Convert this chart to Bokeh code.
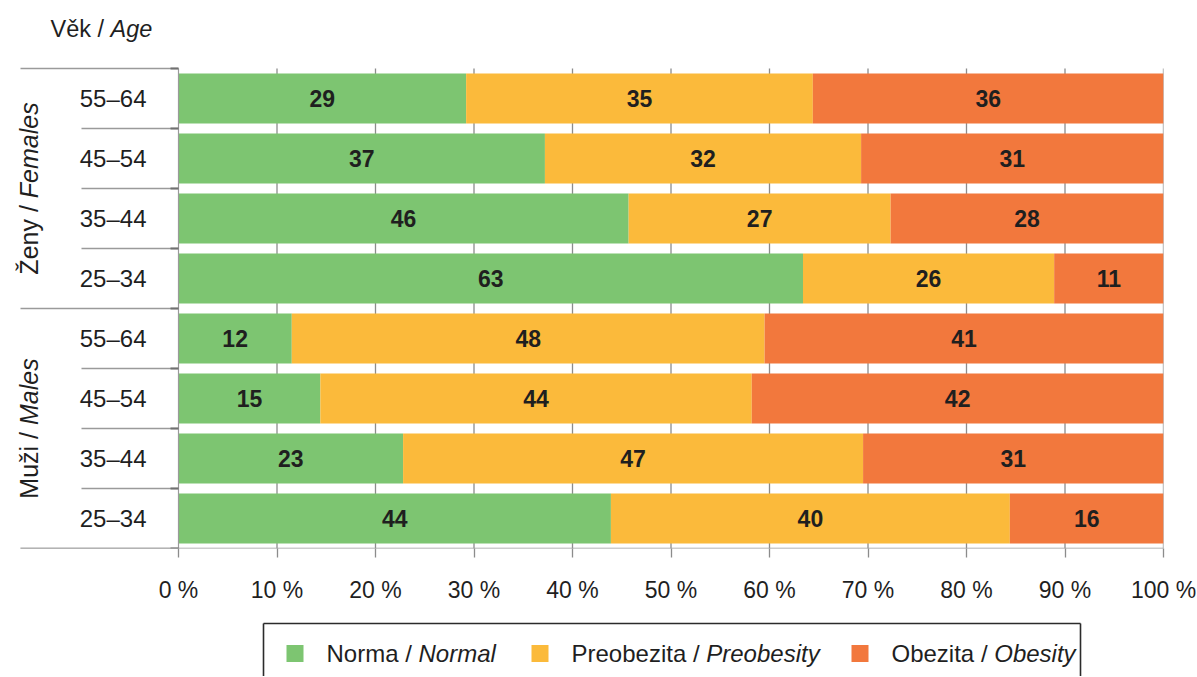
import math
from bokeh.plotting import figure
from bokeh.models import ColumnDataSource, Range1d, LinearAxis, FixedTicker, PrintfTickFormatter
from bokeh.layouts import column
from bokeh.core.properties import value
from bokeh.embed import file_html
from bokeh.resources import INLINE

# ---------------- data ----------------
groups = ["Ženy / Females", "Muži / Males"]
ages = ["55–64", "45–54", "35–44", "25–34", "55–64", "45–54", "35–44", "25–34"]
normal = [29.2, 37.2, 45.7, 63.4, 11.5, 14.4, 22.8, 43.9]
preobesity = [35.2, 32.1, 26.6, 25.5, 48.0, 43.8, 46.7, 40.5]
obesity = [35.6, 30.7, 27.7, 11.1, 40.5, 41.8, 30.5, 15.6]
normal_lbl = [29, 37, 46, 63, 12, 15, 23, 44]
preobesity_lbl = [35, 32, 27, 26, 48, 44, 47, 40]
obesity_lbl = [36, 31, 28, 11, 41, 42, 31, 16]
x_ticks = [0, 10, 20, 30, 40, 50, 60, 70, 80, 90, 100]
legend_cz = ["Norma / ", "Preobezita / ", "Obezita / "]
legend_en = ["Normal", "Preobesity", "Obesity"]
colors = ["#7DC571", "#FBBA3B", "#F2783D"]

FONT = "Liberation Sans"
TXT = "#1f1f1f"

AR = {' ': 278, '/': 278, 'N': 722, 'o': 556, 'r': 333, 'm': 833, 'a': 556, 'P': 667,
      'e': 556, 'b': 556, 'z': 500, 'i': 222, 't': 278, 'O': 778, 'Ž': 611, 'n': 556,
      'y': 500, 'M': 833, 'u': 556, 'ž': 500, 'V': 667, 'ě': 556, 'k': 500, 'l': 222,
      's': 500, 'A': 667, 'g': 556, 'F': 611}


def tw(s, fs):
    return sum(AR.get(c, 556) for c in s) * fs / 1000.0


# ---------------- main figure ----------------
PX_PER_UNIT = 9.85          # 985 px for 100 %
FRAME_LEFT_PX = 178         # distance from figure left edge to 0 %
ROW_PX = 60
x0 = -FRAME_LEFT_PX / PX_PER_UNIT

n = len(ages)
yc = [n - i - 0.5 for i in range(n)]
FRAME_H = 548
y_top = FRAME_H / ROW_PX

TOP_H = 610
FIG_W = 1196
FRAME_W = 1163
p = figure(frame_width=FRAME_W, frame_height=FRAME_H,
           x_range=Range1d(x0, 100), y_range=Range1d(0, y_top),
           output_backend="svg", toolbar_location=None,
           x_axis_location=None, y_axis_location=None,
           min_border_left=0, min_border_right=FIG_W - FRAME_W, min_border_top=0,
           min_border_bottom=TOP_H - FRAME_H)
p.outline_line_color = None
p.xgrid.grid_line_color = None
p.ygrid.grid_line_color = None
p.background_fill_color = "white"
p.border_fill_color = "white"

# vertical grid lines
gx = x_ticks[1:]
p.segment(x0=gx, y0=[0] * len(gx), x1=gx, y1=[n] * len(gx), line_color="#8c8c8c", line_width=1.3)

# bars
left1 = [0] * n
right1 = normal
right2 = [a + b for a, b in zip(normal, preobesity)]
right3 = [a + b + c for a, b, c in zip(normal, preobesity, obesity)]
src = ColumnDataSource(dict(y=yc, l1=left1, r1=right1, r2=right2, r3=right3,
                            c1=[(a + b) / 2 for a, b in zip(left1, right1)],
                            c2=[(a + b) / 2 for a, b in zip(right1, right2)],
                            c3=[(a + b) / 2 for a, b in zip(right2, right3)],
                            t1=[str(v) for v in normal_lbl],
                            t2=[str(v) for v in preobesity_lbl],
                            t3=[str(v) for v in obesity_lbl],
                            age=ages))
H = 0.83
p.hbar(y="y", left="l1", right="r1", height=H, source=src, fill_color=colors[0], line_color=None)
p.hbar(y="y", left="r1", right="r2", height=H, source=src, fill_color=colors[1], line_color=None)
p.hbar(y="y", left="r2", right="r3", height=H, source=src, fill_color=colors[2], line_color=None)

for cx, tt in (("c1", "t1"), ("c2", "t2"), ("c3", "t3")):
    p.text(x=cx, y="y", text=tt, source=src, text_align="center", text_baseline="middle",
           text_font=value(FONT), text_font_size=value("23px"), text_font_style="bold",
           text_color=TXT)

# y axis line at 0 %
p.segment(x0=[0], y0=[0], x1=[0], y1=[n], line_color="#9a9a9a", line_width=1.2)

# row separators (short) and group separators (long)
bounds = list(range(0, n + 1))
grp_bounds = [0, 4, 8]
short_x = -97 / PX_PER_UNIT
long_x = -158 / PX_PER_UNIT
sep_x = [long_x if b in grp_bounds else short_x for b in bounds]
p.segment(x0=sep_x, y0=bounds, x1=[0] * len(bounds), y1=bounds, line_color="#9a9a9a", line_width=1.3)
# small tick marks on the left axis
p.segment(x0=[-8 / PX_PER_UNIT] * len(bounds), y0=bounds, x1=[0] * len(bounds), y1=bounds,
          line_color="#707070", line_width=2)
# bottom axis line
p.segment(x0=[long_x], y0=[0], x1=[100], y1=[0], line_color="#9a9a9a", line_width=1.3)

# age labels
p.text(x=0, y="y", text="age", source=src, x_offset=-32, text_align="right", text_baseline="middle",
       text_font=value(FONT), text_font_size=value("24px"), text_color=TXT)

# group labels (rotated, centred on their group)
GFS = 25
grp_center = [6, 2]
for g, gc in zip(groups, grp_center):
    cz, en = g.split("/ ")
    cz = cz + "/ "
    total = tw(cz, GFS) + tw(en, GFS)
    split_y = gc - (total / 2 - tw(cz, GFS)) / ROW_PX
    p.text(x=[0], y=[split_y], text=[cz], x_offset=-150, angle=math.pi / 2, text_align="right",
           text_baseline="middle", text_font=value(FONT), text_font_size=value(f"{GFS}px"),
           text_color=TXT)
    p.text(x=[0], y=[split_y], text=[en], x_offset=-150, angle=math.pi / 2, text_align="left",
           text_baseline="middle", text_font=value(FONT), text_font_size=value(f"{GFS}px"),
           text_font_style="italic", text_color=TXT)

# "Věk / Age" title
AFS = 23.5
age_title_cz = "Věk / "
age_title_en = "Age"
ty = y_top - 28 / ROW_PX
p.text(x=[0], y=[ty], text=[age_title_cz], x_offset=-128, text_align="left",
       text_baseline="middle", text_font=value(FONT), text_font_size=value(f"{AFS}px"), text_color=TXT)
p.text(x=[0], y=[ty], text=[age_title_en], x_offset=-128 + tw(age_title_cz, AFS), text_align="left",
       text_baseline="middle", text_font=value(FONT), text_font_size=value(f"{AFS}px"),
       text_font_style="italic", text_color=TXT)

# bottom axis
xa = LinearAxis(ticker=FixedTicker(ticks=x_ticks), formatter=PrintfTickFormatter(format="%d %%"))
xa.axis_line_color = None
xa.major_tick_line_color = "#8c8c8c"
xa.major_tick_line_width = 1.3
xa.major_tick_out = 9
xa.major_tick_in = 0
xa.minor_tick_line_color = None
xa.major_label_standoff = 19
xa.major_label_text_font = FONT
xa.major_label_text_font_size = "23px"
xa.major_label_text_color = TXT
p.add_layout(xa, "below")

# ---------------- legend figure ----------------
LEG_H = 66
L = figure(frame_width=FIG_W, frame_height=LEG_H,
           x_range=Range1d(0, FIG_W), y_range=Range1d(TOP_H + LEG_H, TOP_H),
           output_backend="svg", toolbar_location=None, x_axis_location=None, y_axis_location=None,
           min_border=0, min_border_left=0, min_border_right=0, min_border_top=0, min_border_bottom=0)
L.outline_line_color = None
L.xgrid.grid_line_color = None
L.ygrid.grid_line_color = None

box_l, box_r, box_t, box_b = 263, 1080, 623, 690
L.segment(x0=[box_l, box_l, box_r], y0=[box_t, box_t, box_t], x1=[box_r, box_l, box_r],
          y1=[box_t, box_b, box_b], line_color="#2b2b2b", line_width=1.6)

LFS = 24
item_x = [286, 531, 851]
ly = 653
L.rect(x=[x + 8.5 for x in item_x], y=[ly] * 3, width=17, height=17, fill_color=colors, line_color=None)
for x, cz, en in zip(item_x, legend_cz, legend_en):
    tx = x + 40
    L.text(x=[tx], y=[ly], text=[cz], text_align="left", text_baseline="middle",
           text_font=value(FONT), text_font_size=value(f"{LFS}px"), text_color=TXT)
    L.text(x=[tx + tw(cz, LFS)], y=[ly], text=[en], text_align="left", text_baseline="middle",
           text_font=value(FONT), text_font_size=value(f"{LFS}px"), text_font_style="italic",
           text_color=TXT)

layout = column(p, L, spacing=0)
open("out.html", "w").write(file_html(layout, INLINE))
